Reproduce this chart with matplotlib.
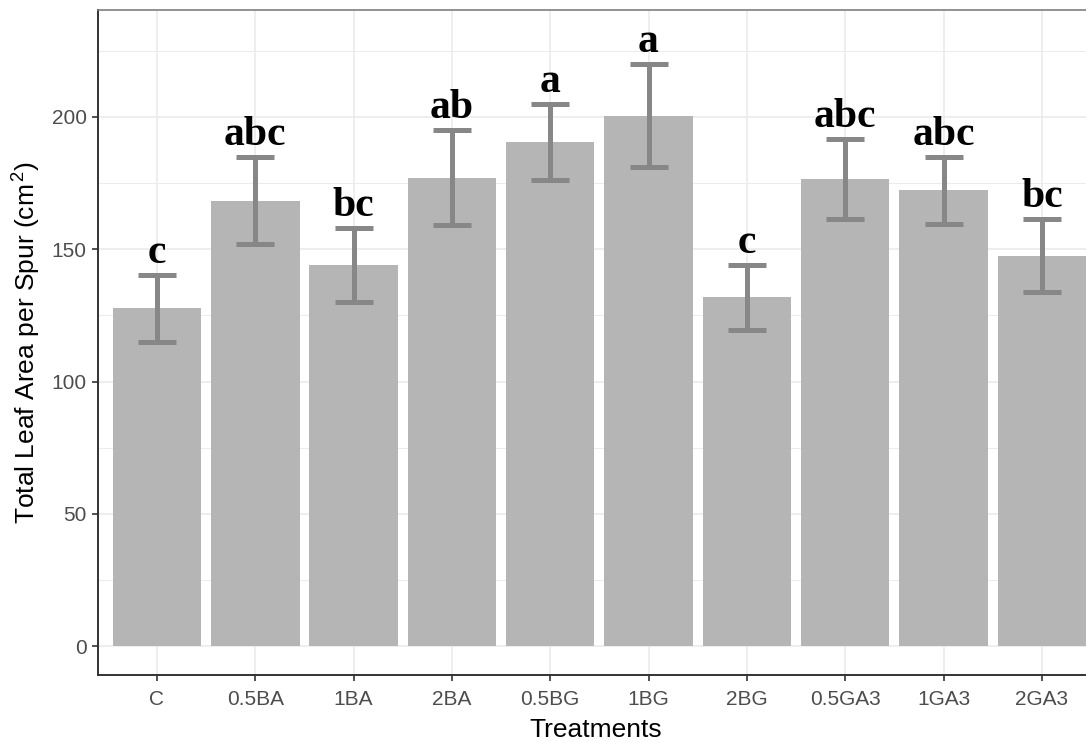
import matplotlib.pyplot as plt
import numpy as np

plt.rcParams['font.family'] = ['Liberation Sans', 'DejaVu Sans']
plt.rcParams['mathtext.fontset'] = 'custom'
plt.rcParams['mathtext.rm'] = 'Liberation Sans'
plt.rcParams['mathtext.it'] = 'Liberation Sans'

# datos
tratamientos = ['C', '0.5BA', '1BA', '2BA', '0.5BG', '1BG', '2BG', '0.5GA3', '1GA3', '2GA3']
area_media = [127.7, 168.4, 144.1, 177.1, 190.5, 200.5, 131.8, 176.5, 172.3, 147.6]
error = [12.6, 16.6, 14.0, 18.0, 14.3, 19.5, 12.4, 15.1, 12.7, 13.8]
letras = ['c', 'abc', 'bc', 'ab', 'a', 'a', 'c', 'abc', 'abc', 'bc']

fig = plt.figure(figsize=(10.86, 7.42), dpi=100)
ax = fig.add_axes([0.0902, 0.0903, 0.9162, 0.8962])

x = np.arange(len(tratamientos))
ax.bar(x, area_media, width=0.9, color='#b5b5b5', zorder=2)
ax.errorbar(x, area_media, yerr=error, fmt='none', ecolor='#878787',
            elinewidth=3.6, capsize=13.7, capthick=3.6, zorder=3)

for i in range(len(x)):
    ax.annotate(letras[i], (x[i], area_media[i] + error[i]), xytext=(0, 8.5),
                textcoords='offset points', ha='center', va='baseline',
                fontsize=30, fontweight='bold', family='Liberation Serif', zorder=4)

ax.set_xlim(-0.6, 9.52)
ax.set_ylim(-10.9, 240.4)
ax.set_xticks(x)
ax.set_xticklabels(tratamientos)
ax.set_yticks([0, 50, 100, 150, 200])
ax.set_yticks([25, 75, 125, 175, 225], minor=True)

ax.grid(True, which='major', color='#ebebeb', linewidth=1.2, zorder=0)
ax.grid(True, which='minor', axis='y', color='#ebebeb', linewidth=0.7, zorder=0)
ax.set_axisbelow(True)

ax.tick_params(axis='both', which='major', length=4, width=1.2, color='#333333',
               labelcolor='#4d4d4d', labelsize=15, pad=4)
ax.tick_params(axis='x', which='major', pad=7)
ax.tick_params(axis='y', which='minor', length=0)
for lado in ['top', 'right']:
    ax.spines[lado].set_color('#7f7f7f')
    ax.spines[lado].set_linewidth(1.2)
for lado in ['left', 'bottom']:
    ax.spines[lado].set_color('#333333')
    ax.spines[lado].set_linewidth(1.4)

ax.set_xlabel('Treatments', fontsize=19, labelpad=6)
ax.set_ylabel('Total Leaf Area per Spur (cm$^{\\,2}$)', fontsize=19, labelpad=6)

plt.savefig('out.png', dpi=100)
